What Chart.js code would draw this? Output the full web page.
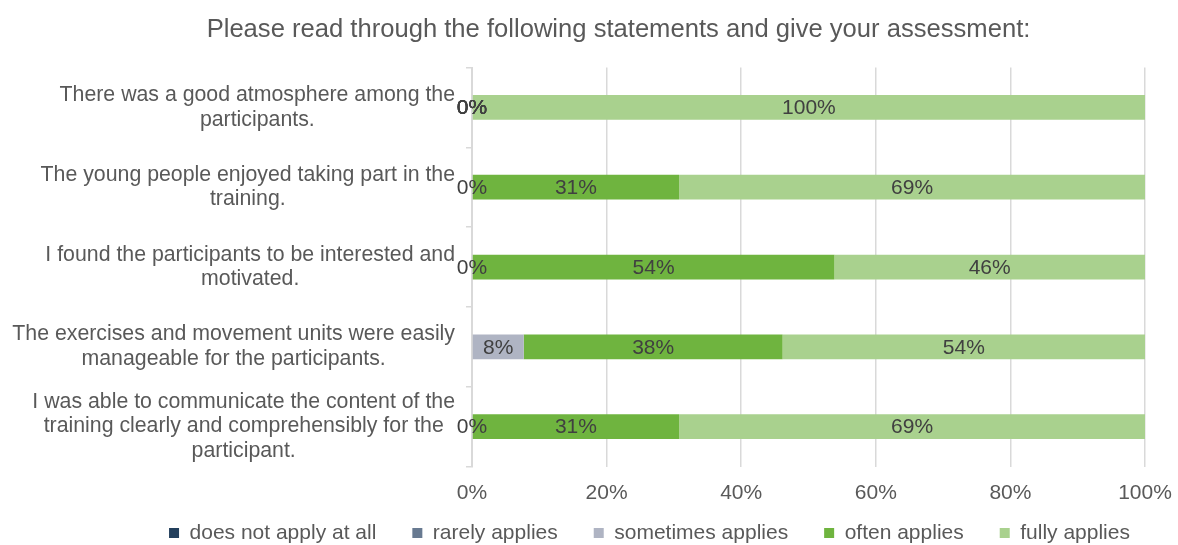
<!DOCTYPE html>
<html lang="en">
<head>
<meta charset="utf-8">
<title>Assessment of the training</title>
<script src="https://cdn.jsdelivr.net/npm/chart.js"></script>
<style>
  html, body { margin: 0; padding: 0; background: #fff; }
  #wrap { width: 1178px; height: 545px; position: relative; }
</style>
</head>
<body>
<div id="wrap"><canvas id="assessmentChart"></canvas></div>
<script>
// Statements (top to bottom), one array of lines per statement
const statements = [
    ['There was a good atmosphere among the', 'participants.'],
    ['The young people enjoyed taking part in the', 'training.'],
    ['I found the participants to be interested and', 'motivated.'],
    ['The exercises and movement units were easily', 'manageable for the participants.'],
    ['I was able to communicate the content of the', 'training clearly and comprehensibly for the', 'participant.']
];

const seriesNames = ['does not apply at all', 'rarely applies', 'sometimes applies', 'often applies', 'fully applies'];
const seriesColors = ['#233f5c', '#687a91', '#afb4c3', '#6fb43f', '#a9d18e'];

// Share of answers in percent (null = no answer in that category)
const doesNotApply     = [0, null, null, null, null];
const rarelyApplies    = [0, null, null, null, null];
const sometimesApplies = [0, 0, 0, 7.69, 0];
const oftenApplies     = [0, 30.77, 53.85, 38.46, 30.77];
const fullyApplies     = [100, 69.23, 46.15, 53.85, 69.23];

const xTicks = [0, 20, 40, 60, 80, 100];

const FONT = "'Liberation Sans', Arial, sans-serif";
const TEXT_GREY = '#595959';
const GRID_GREY = '#d9d9d9';

Chart.defaults.font.family = FONT;
Chart.defaults.font.size = 21;
Chart.defaults.color = TEXT_GREY;

// Value labels centred in every bar segment
const segmentLabels = {
    id: 'segmentLabels',
    afterDatasetsDraw(chart) {
        const ctx = chart.ctx;
        ctx.save();
        ctx.font = '21px ' + FONT;
        ctx.fillStyle = '#404040';
        ctx.textAlign = 'center';
        ctx.textBaseline = 'middle';
        chart.data.datasets.forEach((ds, i) => {
            const meta = chart.getDatasetMeta(i);
            meta.data.forEach((bar, j) => {
                const v = ds.data[j];
                if (v === null || v === undefined) return;
                const p = bar.getProps(['x', 'y', 'base'], true);
                ctx.fillText(Math.round(v) + '%', (p.x + p.base) / 2, p.y + 1);
            });
        });
        ctx.restore();
    }
};

// Statement texts: each block centred on its own widest line, right edge near the axis
const statementLabels = {
    id: 'statementLabels',
    afterDraw(chart) {
        const ctx = chart.ctx;
        const yScale = chart.scales.y;
        const rightEdge = yScale.right - 17;
        const lineH = 24.5;
        ctx.save();
        ctx.font = '21.3px ' + FONT;
        ctx.fillStyle = TEXT_GREY;
        ctx.textAlign = 'center';
        ctx.textBaseline = 'middle';
        statements.forEach((lines, i) => {
            const widest = Math.max(...lines.map(l => ctx.measureText(l).width));
            const cx = rightEdge - widest / 2;
            const cy = yScale.getPixelForValue(i);
            const startY = cy - (lines.length - 1) * lineH / 2;
            lines.forEach((l, k) => ctx.fillText(l, cx, startY + k * lineH));
        });
        ctx.restore();
    }
};

// Legend sits right of the title centre and close under the axis labels
const legendOffset = {
    id: 'legendOffset',
    afterLayout(chart) {
        const lg = chart.legend;
        lg.left += 31;
        lg.right += 31;
        lg.top -= 20;
        lg.bottom -= 20;
    }
};

const seriesData = [doesNotApply, rarelyApplies, sometimesApplies, oftenApplies, fullyApplies];

const ctx = document.getElementById('assessmentChart').getContext('2d');
window.currentChart = new Chart(ctx, {
    type: 'bar',
    data: {
        labels: statements.map(s => s.join(' ')),
        datasets: seriesNames.map((name, i) => ({
            label: name,
            data: seriesData[i],
            backgroundColor: seriesColors[i],
            borderWidth: 0,
            categoryPercentage: 1,
            barPercentage: 0.31
        }))
    },
    options: {
        indexAxis: 'y',
        responsive: true,
        maintainAspectRatio: false,
        animation: false,
        devicePixelRatio: 1,
        layout: {
            padding: { left: 92, right: 33, top: 0, bottom: -28.5 }
        },
        plugins: {
            title: {
                display: true,
                text: 'Please read through the following statements and give your assessment:',
                color: TEXT_GREY,
                font: { size: 25.6, weight: 'normal', lineHeight: 1.2 },
                padding: { top: 14.6, bottom: 22.2 }
            },
            legend: {
                position: 'bottom',
                labels: {
                    boxWidth: 10,
                    boxHeight: 10,
                    padding: 36,
                    color: TEXT_GREY,
                    font: { size: 21 }
                }
            },
            tooltip: { enabled: false }
        },
        scales: {
            x: {
                stacked: true,
                min: 0,
                max: 100,
                afterBuildTicks: (scale) => {
                    scale.ticks = xTicks.map(v => ({ value: v }));
                },
                ticks: {
                    callback: (v) => v + '%',
                    padding: 0,
                    color: TEXT_GREY,
                    font: { size: 21, lineHeight: '53px' }
                },
                grid: {
                    color: GRID_GREY,
                    lineWidth: 1.5,
                    drawTicks: false
                },
                border: { display: false },
                afterFit: (scale) => { scale.height = 40; }
            },
            y: {
                stacked: true,
                ticks: { display: false },
                grid: {
                    drawOnChartArea: false,
                    drawTicks: true,
                    tickLength: 6,
                    color: GRID_GREY,
                    lineWidth: 1.5
                },
                border: { display: true, color: GRID_GREY, width: 2 },
                afterFit: (scale) => { scale.width = 380; }
            }
        }
    },
    plugins: [segmentLabels, statementLabels, legendOffset]
});
</script>
</body>
</html>
